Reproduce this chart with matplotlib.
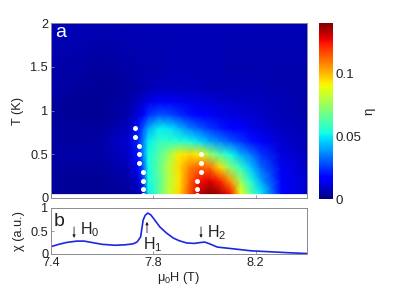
import matplotlib
matplotlib.use("Agg")
import matplotlib.pyplot as plt
import numpy as np

plt.rcParams['font.family'] = ['Liberation Sans', 'DejaVu Sans']
plt.rcParams['mathtext.fontset'] = 'custom'
plt.rcParams['mathtext.rm'] = 'Liberation Sans'
plt.rcParams['mathtext.default'] = 'rm'

# eta map
field = [7.4, 7.5, 7.6, 7.7, 7.74, 7.76, 7.78, 7.82, 7.86, 7.9, 7.94, 7.98, 8.02, 8.06, 8.1, 8.14, 8.18, 8.22, 8.3, 8.4]
temp = [0.05, 0.2, 0.35, 0.5, 0.65, 0.8, 0.95, 1.1, 1.25, 1.5, 2.0]
eta = [
    [.004, .003, .003, .004, .006, .015, .050, .063, .082, .095, .115, .132, .140, .135, .125, .090, .065, .050, .018, .010],
    [.004, .003, .003, .005, .010, .025, .052, .063, .080, .093, .112, .125, .128, .122, .105, .075, .055, .040, .015, .010],
    [.004, .004, .004, .007, .015, .030, .052, .065, .080, .095, .108, .113, .112, .095, .072, .058, .045, .032, .014, .009],
    [.005, .005, .005, .009, .020, .035, .052, .063, .075, .092, .095, .092, .075, .062, .052, .042, .034, .025, .012, .008],
    [.004, .004, .005, .010, .022, .035, .050, .057, .057, .055, .052, .048, .041, .035, .030, .025, .020, .016, .010, .007],
    [.004, .004, .004, .008, .020, .030, .040, .050, .049, .043, .035, .030, .025, .021, .018, .016, .013, .011, .008, .007],
    [.004, .003, .003, .006, .012, .018, .024, .029, .028, .024, .020, .017, .015, .013, .012, .011, .010, .009, .007, .006],
    [.004, .003, .003, .005, .008, .010, .013, .015, .015, .014, .013, .012, .011, .010, .009, .009, .008, .008, .007, .006],
    [.005, .004, .003, .004, .005, .006, .007, .008, .008, .008, .008, .008, .007, .007, .007, .007, .007, .007, .006, .006],
    [.005, .005, .004, .005, .006, .006, .006, .006, .007, .007, .007, .007, .007, .007, .006, .006, .006, .006, .006, .006],
    [.007, .007, .007, .007, .007, .007, .007, .007, .007, .007, .007, .007, .007, .007, .007, .007, .007, .007, .007, .007],
]

# white dots
h1_dots = [7.728, 7.728, 7.744, 7.744, 7.744, 7.76, 7.76, 7.76, 7.76]
t1_dots = [0.8, 0.7, 0.6, 0.5, 0.4, 0.3, 0.2, 0.1, 0.03]
h2_dots = [7.985, 7.985, 7.985, 7.97, 7.97, 7.97]
t2_dots = [0.5, 0.4, 0.3, 0.2, 0.1, 0.03]

# susceptibility
chi_h = [7.4, 7.43, 7.46, 7.5, 7.53, 7.56, 7.6, 7.65, 7.69, 7.72, 7.736, 7.75, 7.76, 7.768, 7.778, 7.79, 7.805, 7.825, 7.85, 7.877, 7.9, 7.93, 7.96, 7.985, 8.0, 8.02, 8.05, 8.1, 8.18, 8.25, 8.32, 8.4]
chi = [.16, .21, .25, .28, .28, .25, .21, .19, .20, .22, .26, .37, .74, .84, .89, .85, .74, .59, .46, .35, .29, .24, .23, .25, .26, .22, .15, .12, .07, .05, .03, .01]

fig = plt.figure(figsize=(3.95, 2.96), dpi=100)
W, H = 395.0, 296.0

edge = '#8a8a95'
txt = '#222222'

ax = fig.add_axes([51 / W, 1 - 198 / H, 256 / W, 175 / H])
mesh = ax.pcolormesh(field, temp, np.array(eta), shading='gouraud', cmap='jet', vmin=0, vmax=0.14, rasterized=True)
ax.scatter(h1_dots, t1_dots, s=13, c='white', linewidths=0, zorder=3)
ax.scatter(h2_dots, t2_dots, s=13, c='white', linewidths=0, zorder=3)
ax.set_xlim(7.4, 8.4)
ax.set_ylim(0, 2)
ax.set_yticks([0, 0.5, 1, 1.5, 2])
ax.set_yticklabels(['0', '0.5', '1', '1.5', '2'])
ax.set_xticks([7.8, 8.2])
ax.set_xticklabels([])
ax.tick_params(direction='in', length=2, width=0.6, color=edge, labelsize=9.2, labelcolor=txt, pad=2)
ax.set_ylabel('T (K)', fontsize=9.2, color=txt, labelpad=5)
ax.text(7.415, 1.886, 'a', color='white', fontsize=14, va='center')
for s in ax.spines.values():
    s.set_color(edge)
    s.set_linewidth(0.7)

cax = fig.add_axes([319 / W, 1 - 199 / H, 14 / W, 176 / H])
cb = fig.colorbar(mesh, cax=cax)
cb.set_ticks([0, 0.05, 0.1])
cb.set_ticklabels(['0', '0.05', '0.1'])
cb.ax.tick_params(length=0, labelsize=9.6, labelcolor=txt, pad=2)
cb.set_label('\u03b7', fontsize=9.6, color=txt, labelpad=1)
cb.outline.set_visible(False)

ax2 = fig.add_axes([51 / W, 1 - 254 / H, 256 / W, 46 / H])
ax2.plot(chi_h, chi, color='#1c28e0', lw=1.2)
ax2.set_xlim(7.4, 8.4)
ax2.set_ylim(0, 1)
ax2.set_xticks([7.4, 7.8, 8.2])
ax2.set_xticklabels(['7.4', '7.8', '8.2'])
ax2.set_yticks([0, 0.5, 1])
ax2.set_yticklabels(['0', '0.5', '1'])
ax2.tick_params(direction='in', length=2, width=0.6, color=edge, labelsize=9.2, labelcolor=txt, pad=2)
ax2.set_xlabel('\u03bc$_0$H (T)', fontsize=9.2, color=txt, labelpad=1)
ax2.set_ylabel('\u03c7 (a.u.)', fontsize=9.2, color=txt, labelpad=4)
for s in ax2.spines.values():
    s.set_color(edge)
    s.set_linewidth(0.7)

arrow = dict(arrowstyle='-|>', color='#222222', lw=0.6, mutation_scale=4, shrinkA=0, shrinkB=0)
ax2.annotate('', xy=(7.49, 0.35), xytext=(7.49, 0.59), arrowprops=arrow)
ax2.annotate('', xy=(7.775, 0.7), xytext=(7.775, 0.46), arrowprops=arrow)
ax2.annotate('', xy=(7.986, 0.35), xytext=(7.986, 0.59), arrowprops=arrow)
ax2.text(7.41, 0.7, 'b', fontsize=14, color=txt, va='center')
ax2.text(7.513, 0.52, 'H$_0$', fontsize=11.5, color=txt, va='center')
ax2.text(7.76, 0.2, 'H$_1$', fontsize=11.5, color=txt, va='center')
ax2.text(8.01, 0.46, 'H$_2$', fontsize=11.5, color=txt, va='center')

fig.savefig('out.png', dpi=100)
